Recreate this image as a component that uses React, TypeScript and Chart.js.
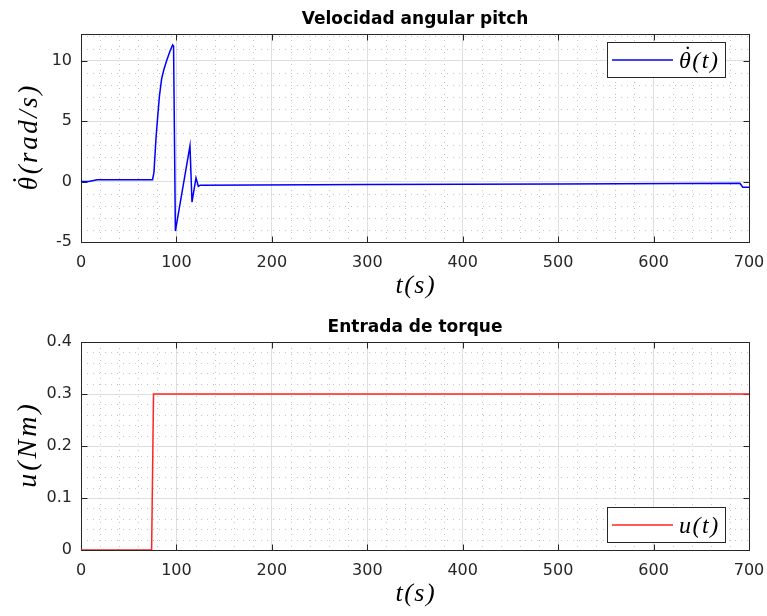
import React, { useEffect, useRef } from "react";
import { Chart, registerables } from "chart.js";

Chart.register(...registerables);

// Pitch angular velocity: time (s) and rate (rad/s)
const rateTime = [
  0, 8, 17, 75, 76.5, 78.6, 80, 82.1, 84.5, 87, 89.8, 93.3, 96, 97, 98.9,
  114.2, 116.3, 120.5, 123, 125, 300, 500, 690.5, 693.4, 700,
];
const rateValue = [
  0, 0, 0.15, 0.15, 0.8, 3.6, 5.0, 7.0, 8.5, 9.3, 10.0, 10.8, 11.3, 11.2, -4.1,
  2.95, -1.7, 0.3, -0.39, -0.3, -0.25, -0.2, -0.14, -0.47, -0.47,
];

// Torque input: time (s) and torque (N·m)
const torqueTime = [0, 74, 76, 700];
const torqueValue = [0, 0, 0.3, 0.3];

// Axis ticks
const timeTicks = [0, 100, 200, 300, 400, 500, 600, 700];
const rateTicks = [-5, 0, 5, 10];
const torqueTicks = [0, 0.1, 0.2, 0.3, 0.4];

const W = 767;
const H = 308;

// A math label: the symbol that carries a time-derivative dot (if any) and the rest
type MathText = { dotted: string; rest: string };

type Panel = {
  title: string;
  yLabel: MathText;
  xLabel: MathText;
  legend: MathText;
  times: number[];
  values: number[];
  color: string;
  yMin: number;
  yMax: number;
  yTicks: number[];
  yMinor: number;
  legendAt: "top" | "bottom";
  yLabelSize: number;
  yLabelSpacing: number;
  yLabelX: number;
};

const TICK_FONT = "DejaVu Sans";
const MATH_FONT = "'Liberation Serif'";
const INK = "#262626";

function drawMath(
  ctx: CanvasRenderingContext2D,
  m: MathText,
  x: number,
  y: number,
  size: number,
  spacing: number,
  align: "left" | "center",
  rotate = false
) {
  ctx.save();
  ctx.translate(x, y);
  if (rotate) ctx.rotate(-Math.PI / 2);
  ctx.font = `italic ${size}px ${MATH_FONT}`;
  (ctx as any).letterSpacing = `${spacing}px`;
  ctx.fillStyle = "#000";
  ctx.textAlign = "left";
  ctx.textBaseline = "alphabetic";
  const full = m.dotted + m.rest;
  const total = ctx.measureText(full).width - spacing;
  const x0 = align === "center" ? -total / 2 : 0;
  ctx.fillText(full, x0, 0);
  if (m.dotted) {
    const w = ctx.measureText(m.dotted).width - spacing;
    (ctx as any).letterSpacing = "0px";
    ctx.textAlign = "center";
    ctx.fillText("\u02D9", x0 + w / 2 + size * 0.06, -size * 0.24);
  }
  ctx.restore();
}

function decorPlugin(p: Panel) {
  return {
    id: "panelDecor",
    beforeDatasetsDraw(chart: any) {
      const { ctx, chartArea: a, scales } = chart;
      const xs = scales.x;
      const ys = scales.y;
      ctx.save();
      // minor dotted grid
      ctx.beginPath();
      ctx.rect(a.left, a.top, a.right - a.left, a.bottom - a.top);
      ctx.clip();
      ctx.strokeStyle = "#c4c4c4";
      ctx.lineWidth = 1;
      ctx.setLineDash([1, 5]);
      ctx.beginPath();
      for (let i = 0; i <= 35; i++) {
        const t = i * 20;
        if (t % 100 === 0) continue;
        const px = Math.round(xs.getPixelForValue(t)) + 0.5;
        ctx.moveTo(px, a.top);
        ctx.lineTo(px, a.bottom);
      }
      const n = Math.round((p.yMax - p.yMin) / p.yMinor) + 1;
      for (let i = 0; i <= n; i++) {
        const v = p.yMin + i * p.yMinor;
        if (v > p.yMax + 1e-9) break;
        if (p.yTicks.some((tk) => Math.abs(tk - v) < 1e-9)) continue;
        const py = Math.round(ys.getPixelForValue(v)) + 0.5;
        ctx.moveTo(a.left, py);
        ctx.lineTo(a.right, py);
      }
      ctx.stroke();
      ctx.restore();

      // axes box and inward ticks
      ctx.save();
      ctx.strokeStyle = INK;
      ctx.lineWidth = 1;
      const L = Math.round(a.left) + 0.5;
      const R = Math.round(a.right) + 0.5;
      const T = Math.round(a.top) + 0.5;
      const B = Math.round(a.bottom) + 0.5;
      ctx.strokeRect(L, T, R - L, B - T);
      ctx.beginPath();
      const tl = 6;
      timeTicks.forEach((t) => {
        const px = Math.round(xs.getPixelForValue(t)) + 0.5;
        ctx.moveTo(px, B);
        ctx.lineTo(px, B - tl);
        ctx.moveTo(px, T);
        ctx.lineTo(px, T + tl);
      });
      p.yTicks.forEach((v) => {
        const py = Math.round(ys.getPixelForValue(v)) + 0.5;
        ctx.moveTo(L, py);
        ctx.lineTo(L + tl, py);
        ctx.moveTo(R, py);
        ctx.lineTo(R - tl, py);
      });
      ctx.stroke();
      ctx.restore();
    },
    afterDatasetsDraw(chart: any) {
      const { ctx, chartArea: a } = chart;
      const cx = (a.left + a.right) / 2;
      // title
      ctx.save();
      ctx.font = `bold 17px ${TICK_FONT}`;
      ctx.fillStyle = "#000";
      ctx.textAlign = "center";
      ctx.textBaseline = "alphabetic";
      ctx.fillText(p.title, cx, 24);
      ctx.restore();

      // axis labels
      drawMath(ctx, p.xLabel, cx, a.bottom + 51, 26, 1.5, "center");
      drawMath(
        ctx,
        p.yLabel,
        p.yLabelX,
        (a.top + a.bottom) / 2,
        p.yLabelSize,
        p.yLabelSpacing,
        "center",
        true
      );

      // legend
      const bw = 118;
      const bh = 35;
      const bx = Math.round(a.right) - 24 - bw;
      const by =
        p.legendAt === "top" ? Math.round(a.top) + 8 : Math.round(a.bottom) - 8 - bh;
      ctx.save();
      ctx.fillStyle = "#fff";
      ctx.fillRect(bx, by, bw, bh);
      ctx.strokeStyle = INK;
      ctx.lineWidth = 1;
      ctx.strokeRect(bx + 0.5, by + 0.5, bw, bh);
      ctx.strokeStyle = p.color;
      ctx.lineWidth = 1.5;
      ctx.beginPath();
      ctx.moveTo(bx + 5, by + bh / 2 + 0.5);
      ctx.lineTo(bx + 66, by + bh / 2 + 0.5);
      ctx.stroke();
      ctx.restore();
      drawMath(ctx, p.legend, bx + 72, by + bh / 2 + 8, 24, 1.5, "left");
    },
  };
}

function makeChart(canvas: HTMLCanvasElement, p: Panel) {
  return new Chart(canvas, {
    type: "line",
    data: {
      datasets: [
        {
          label: p.legend.dotted + p.legend.rest,
          data: p.times.map((t, i) => ({ x: t, y: p.values[i] })),
          borderColor: p.color,
          borderWidth: 1.5,
          pointRadius: 0,
          tension: 0,
          fill: false,
        },
      ],
    },
    options: {
      animation: false,
      responsive: false,
      devicePixelRatio: 1,
      layout: { padding: { left: 0, right: 18, top: 34, bottom: 0 } },
      plugins: {
        legend: { display: false },
        title: { display: false },
        tooltip: { enabled: false },
      },
      scales: {
        x: {
          type: "linear",
          min: 0,
          max: 700,
          afterBuildTicks: (s: any) => {
            s.ticks = timeTicks.map((v) => ({ value: v }));
          },
          afterFit: (s: any) => {
            s.height = 66;
            s.paddingLeft = 0;
            s.paddingRight = 0;
          },
          grid: { color: "#dedede", drawTicks: false, lineWidth: 1 },
          border: { display: false },
          ticks: {
            padding: 11,
            color: INK,
            font: { family: TICK_FONT, size: 16 },
            maxRotation: 0,
            autoSkip: false,
          },
        },
        y: {
          type: "linear",
          min: p.yMin,
          max: p.yMax,
          afterBuildTicks: (s: any) => {
            s.ticks = p.yTicks.map((v) => ({ value: v }));
          },
          afterFit: (s: any) => {
            s.width = 81;
            s.paddingTop = 0;
            s.paddingBottom = 0;
          },
          grid: { color: "#dedede", drawTicks: false, lineWidth: 1 },
          border: { display: false },
          ticks: {
            padding: 9,
            color: INK,
            font: { family: TICK_FONT, size: 16 },
            autoSkip: false,
          },
        },
      },
    } as any,
    plugins: [decorPlugin(p)],
  });
}

const ratePanel: Panel = {
  title: "Velocidad angular pitch",
  yLabel: { dotted: "\u03B8", rest: "(rad/s)" },
  xLabel: { dotted: "", rest: "t(s)" },
  legend: { dotted: "\u03B8", rest: "(t)" },
  times: rateTime,
  values: rateValue,
  color: "#0000ff",
  yMin: -5,
  yMax: 12.2,
  yTicks: rateTicks,
  yMinor: 1,
  legendAt: "top",
  yLabelSize: 27,
  yLabelSpacing: 2.5,
  yLabelX: 37,
};

const torquePanel: Panel = {
  title: "Entrada de torque",
  yLabel: { dotted: "", rest: "u(Nm)" },
  xLabel: { dotted: "", rest: "t(s)" },
  legend: { dotted: "", rest: "u(t)" },
  times: torqueTime,
  values: torqueValue,
  color: "#ff2424",
  yMin: 0,
  yMax: 0.4,
  yTicks: torqueTicks,
  yMinor: 0.02,
  legendAt: "bottom",
  yLabelSize: 28,
  yLabelSpacing: 3,
  yLabelX: 36,
};

export default function App() {
  const topRef = useRef<HTMLCanvasElement>(null);
  const bottomRef = useRef<HTMLCanvasElement>(null);

  useEffect(() => {
    const charts: Chart[] = [];
    if (topRef.current) charts.push(makeChart(topRef.current, ratePanel));
    if (bottomRef.current) charts.push(makeChart(bottomRef.current, torquePanel));
    return () => charts.forEach((c) => c.destroy());
  }, []);

  return (
    <div
      style={{
        position: "absolute",
        left: 0,
        top: 0,
        width: W,
        height: 2 * H,
        background: "#fff",
      }}
    >
      <canvas ref={topRef} width={W} height={H} style={{ display: "block" }} />
      <canvas ref={bottomRef} width={W} height={H} style={{ display: "block" }} />
    </div>
  );
}
